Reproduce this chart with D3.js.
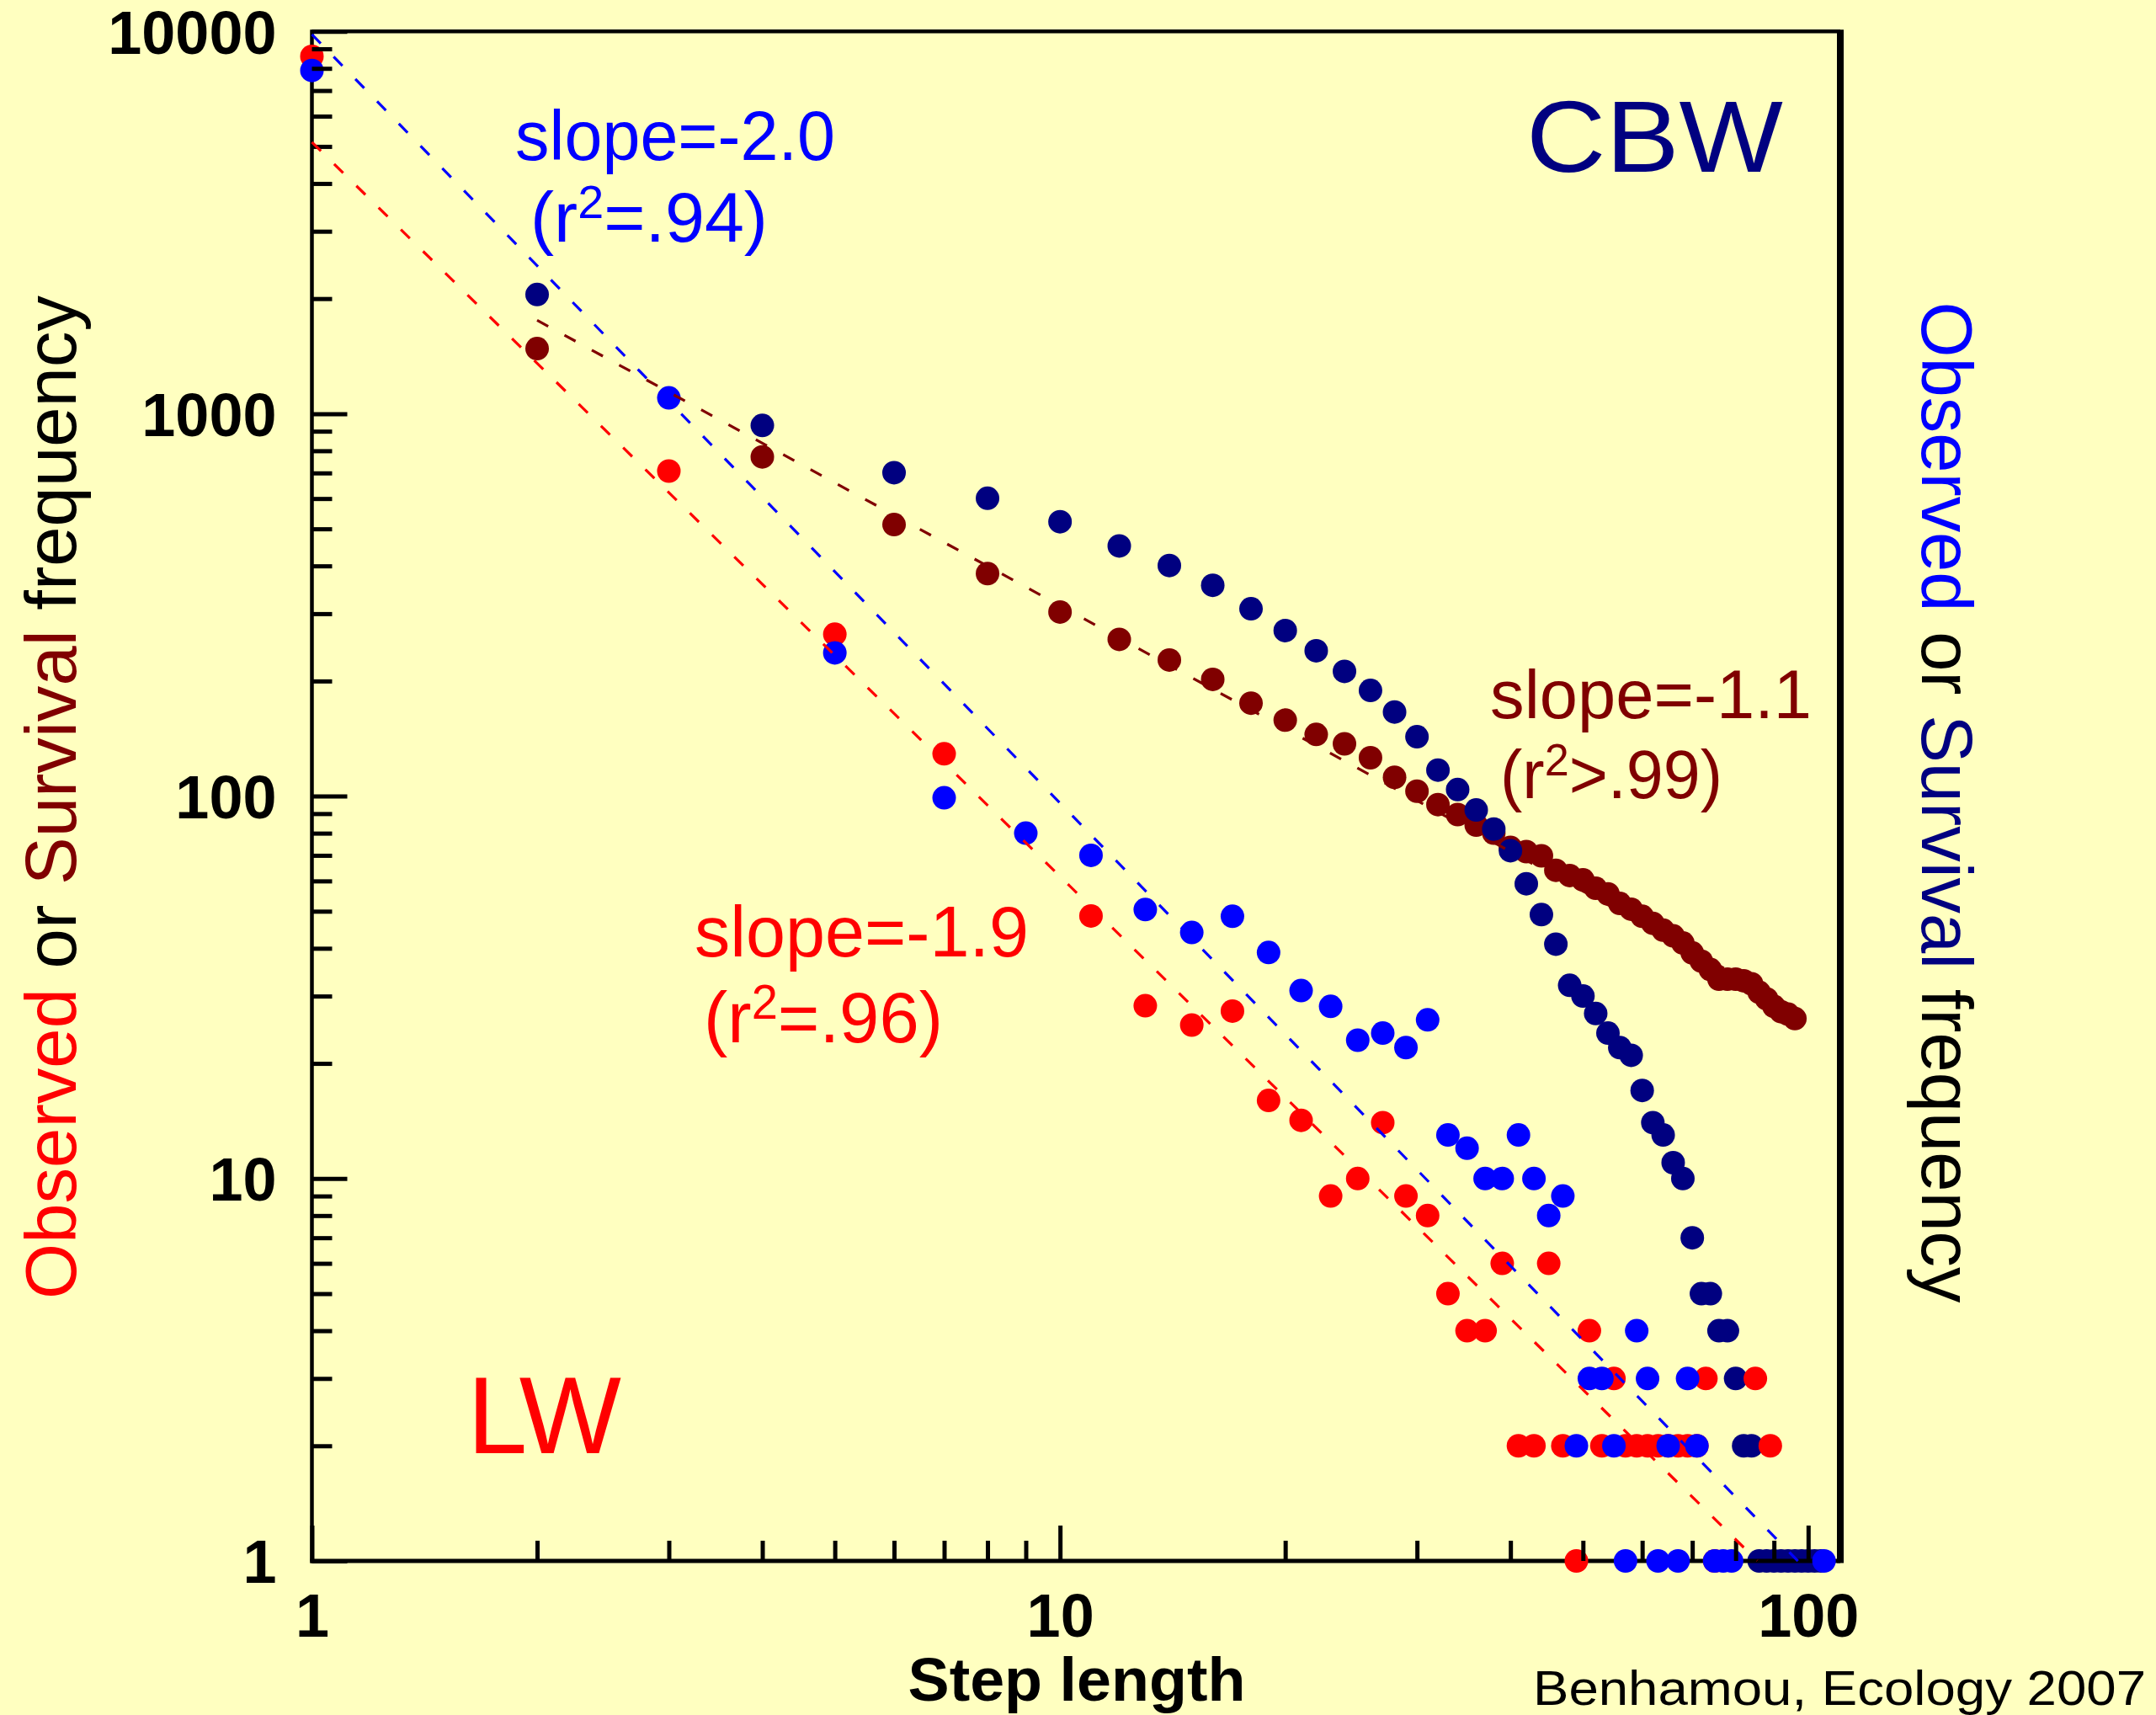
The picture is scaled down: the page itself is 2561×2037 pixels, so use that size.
<!DOCTYPE html>
<html><head><meta charset="utf-8">
<script src="https://cdn.jsdelivr.net/npm/d3@7"></script>
<style>html,body{margin:0;padding:0;background:#ffffc0;} svg{display:block;}</style>
</head><body>
<script>
// ---------- DATA ----------
// LW observed frequency (red)
const lwObserved = [[1,8600],[3,708],[5,265],[7,129],[11,48.6],[13,28.3],[15,25.2],[17,27.4],[19,16],[21,14.2],[23,9],[25,10],[27,14],[29,9],[31,8],[33,5],[35,4],[37,4],[39,6],[41,2],[43,2],[45,6],[47,2],[49,1],[51,4],[53,2],[55,3],[57,2],[59,2],[61,2],[63,2],[65,2],[67,2],[69,2],[71,2],[73,3],[75,1],[85,3],[89,2]];
// CBW observed frequency (blue)
const cbwObserved = [[1,7900],[3,1100],[5,237],[7,99],[9,80],[11,70],[13,50.5],[15,44],[17,48.5],[19,39],[21,31],[23,28.2],[25,23],[27,24],[29,22],[31,26],[33,13],[35,12],[37,10],[39,10],[41,13],[43,10],[45,8],[47,9],[49,2],[51,3],[53,3],[55,2],[57,1],[59,4],[61,3],[63,1],[65,2],[67,1],[69,3],[71,2],[75,1],[77,1],[79,1],[105,1]];
// LW survival frequency (maroon)
const lwSurvival = [[2,1480],[4,771],[6,513],[8,382],[10,303],[12,257],[14,227],[16,202],[18,175],[20,158],[22,145],[24,137],[26,126],[28,112],[30,103],[32,95],[34,89.5],[36,84],[38,80],[40,73.4],[42,71.6],[44,69.8],[46,64],[48,62],[50,60.4],[52,57.4],[54,55.5],[56,52.4],[58,50.6],[60,48.5],[62,46.5],[64,44.6],[66,43.1],[68,41.3],[70,38.9],[72,37],[74,35.2],[76,33.2],[78,33.2],[80,33.2],[82,32.9],[84,32.3],[86,30.7],[88,29.5],[90,28.2],[92,27.3],[94,26.9],[96,26.2]];
// CBW survival frequency (navy)
const cbwSurvival = [[2,2050],[4,932],[6,701],[8,601],[10,522],[12,451],[14,401],[16,356],[18,309],[20,271],[22,240],[24,212],[26,189],[28,166],[30,143],[32,117],[34,104],[36,92],[38,82],[40,72],[42,59],[44,49],[46,41],[48,32],[50,30],[52,27],[54,24],[56,22],[58,21],[60,17],[62,14],[64,13],[66,11],[68,10],[70,7],[72,5],[74,5],[76,4],[78,4],[80,3],[82,2],[84,2],[86,1],[88,1],[90,1],[92,1],[94,1],[96,1],[98,1],[100,1],[102,1],[104,1]];
// fitted power laws: log10(y) = logIntercept + slope*log10(x)
const fitLines = [
  {series:"lwSurv", slope:-1.068, logIntercept:3.566, from:2, to:96},
  {series:"lwObs",  slope:-1.92,  logIntercept:3.71,  from:1, to:85.5},
  {series:"cbwObs", slope:-2.01,  logIntercept:3.992, from:1, to:96.9}
];
const xMajorTicks = [1,10,100];
const xMinorTicks = [2,3,4,5,6,7,8,9,20,30,40,50,60,70,80,90];
const yMajorTicks = [1,10,100,1000,10000];
const yMinorTicks = [2,3,4,5,6,7,8,9,20,30,40,50,60,70,80,90,200,300,400,500,600,700,800,900,2000,3000,4000,5000,6000,7000,8000,9000];

// ---------- STYLE ----------
const BG="#ffffc0", RED="#ff0000", BLUE="#0000ff", MAROON="#800000", NAVY="#000080";
const FONT="'Liberation Sans', Arial, Helvetica, sans-serif";
const W=2561, H=2037;

const svg=d3.select("body").append("svg").attr("width",W).attr("height",H);
svg.append("rect").attr("width",W).attr("height",H).attr("fill",BG);

const x=d3.scaleLog().domain([1,110.4]).range([370.5,2186]);
const y=d3.scaleLog().domain([1,10000]).range([1854,37.2]);
const R=14;

function dots(data,color){
  svg.append("g").selectAll("circle").data(data).join("circle")
    .attr("cx",d=>x(d[0])).attr("cy",d=>y(d[1])).attr("r",R).attr("fill",color);
}

// survival points first
dots(lwSurvival,MAROON);
dots(cbwSurvival,NAVY);

// frame
const fr=svg.append("g").attr("stroke","#000").attr("fill","none");
fr.append("line").attr("x1",x.range()[0]).attr("x2",x.range()[1]).attr("y1",y.range()[1]).attr("y2",y.range()[1]).attr("stroke-width",4.5);
fr.append("line").attr("x1",x.range()[0]).attr("x2",x.range()[0]).attr("y1",y.range()[1]-2).attr("y2",y.range()[0]+2.5).attr("stroke-width",4.5);
fr.append("line").attr("x1",x.range()[1]).attr("x2",x.range()[1]).attr("y1",y.range()[1]-2).attr("y2",y.range()[0]+2.5).attr("stroke-width",8);
fr.append("line").attr("x1",x.range()[0]-2).attr("x2",x.range()[1]).attr("y1",y.range()[0]).attr("y2",y.range()[0]).attr("stroke-width",5);

// observed points
dots(lwObserved,RED);
dots(cbwObserved,BLUE);

// axes (ticks inward)
function styleAxis(g){
  g.select(".domain").remove();
  g.selectAll(".tick line").attr("stroke","#000").attr("stroke-width",5);
  g.selectAll(".tick text").attr("fill","#000").attr("font-family",FONT).attr("font-weight","bold").attr("font-size",72);
}
svg.append("g").attr("transform",`translate(${x.range()[0]},0)`)
  .call(d3.axisLeft(y).tickValues(yMinorTicks).tickSize(-24).tickFormat(""))
  .call(styleAxis);
svg.append("g").attr("transform",`translate(${x.range()[0]},0)`)
  .call(d3.axisLeft(y).tickValues(yMajorTicks).tickSize(-42).tickPadding(42).tickFormat(d3.format("d")))
  .call(styleAxis)
  .call(g=>g.selectAll(".tick text").attr("dy","0.36em"));
svg.append("g").attr("transform",`translate(0,${y.range()[0]})`)
  .call(d3.axisBottom(x).tickValues(xMinorTicks).tickSize(-24).tickFormat(""))
  .call(styleAxis);
svg.append("g").attr("transform",`translate(0,${y.range()[0]})`)
  .call(d3.axisBottom(x).tickValues(xMajorTicks).tickSize(-42).tickPadding(39).tickFormat(d3.format("d")))
  .call(styleAxis);

// fitted dashed lines
const fitColor={lwSurv:MAROON,lwObs:RED,cbwObs:BLUE};
const line=d3.line().x(d=>x(d[0])).y(d=>y(d[1]));
fitLines.forEach(f=>{
  const pts=[f.from,f.to].map(v=>[v,Math.pow(10,f.logIntercept+f.slope*Math.log10(v))]);
  svg.append("path").attr("d",line(pts)).attr("fill","none")
    .attr("stroke",fitColor[f.series]).attr("stroke-width",3.2).attr("stroke-dasharray","15,22");
});

// ---------- TEXT ----------
function txt(xp,yp,str,color,size,len,weight){
  const t=svg.append("text").attr("x",xp).attr("y",yp).attr("fill",color)
    .attr("font-family",FONT).attr("font-size",size).text(str);
  if(weight) t.attr("font-weight",weight);
  if(len) t.attr("textLength",len).attr("lengthAdjust","spacingAndGlyphs");
  return t;
}
function rsq(xp,yp,pre,post,color,size,len){
  const t=svg.append("text").attr("x",xp).attr("y",yp).attr("fill",color)
    .attr("font-family",FONT).attr("font-size",size);
  t.append("tspan").text(pre);
  t.append("tspan").attr("font-size",size*0.66).attr("dy",-size*0.33).text("2");
  t.append("tspan").attr("dy",size*0.33).text(post);
  if(len) t.attr("textLength",len).attr("lengthAdjust","spacingAndGlyphs");
}
txt(612,190,"slope=-2.0",BLUE,84,380);
rsq(630,287,"(r","=.94)",BLUE,84,282);
txt(825,1136,"slope=-1.9",RED,86,397);
rsq(836,1238,"(r","=.96)",RED,86,284);
txt(1770,853,"slope=-1.1",MAROON,82,382);
rsq(1782,948,"(r",">.99)",MAROON,82,264);
txt(1813,204,"CBW",NAVY,121,305);
txt(555,1726,"LW",RED,130,183);

txt(1279,2020,"Step length","#000",73,401,"bold").attr("text-anchor","middle");
txt(2549,2025,"Benhamou, Ecology 2007","#000",58,728).attr("text-anchor","end");

// left axis title
const lt=svg.append("text").attr("transform","translate(90,947) rotate(-90)")
  .attr("text-anchor","middle").attr("font-family",FONT).attr("font-size",86)
  .attr("textLength",1192).attr("lengthAdjust","spacingAndGlyphs");
lt.append("tspan").attr("fill",RED).text("Observed");
lt.append("tspan").attr("fill","#000").text(" or ");
lt.append("tspan").attr("fill",MAROON).text("Survival");
lt.append("tspan").attr("fill","#000").text(" frequency");

// right axis title
const rt=svg.append("text").attr("transform","translate(2283,953) rotate(90)")
  .attr("text-anchor","middle").attr("font-family",FONT).attr("font-size",86)
  .attr("textLength",1189).attr("lengthAdjust","spacingAndGlyphs");
rt.append("tspan").attr("fill",BLUE).text("Observed");
rt.append("tspan").attr("fill","#000").text(" or ");
rt.append("tspan").attr("fill",NAVY).text("Survival");
rt.append("tspan").attr("fill","#000").text(" frequency");
</script>
</body></html>
